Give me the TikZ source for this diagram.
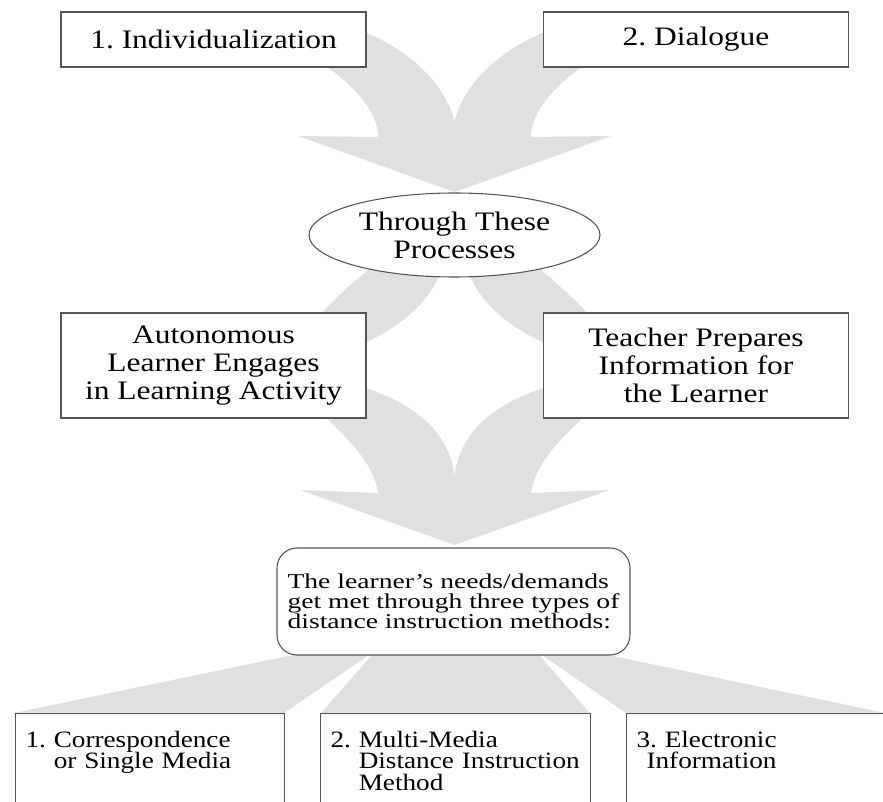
\documentclass[tikz,border=0pt]{standalone}
\usepackage{fontspec}
\setmainfont{Liberation Serif}
\newfontfamily\stagefont{Liberation Serif}[FakeStretch=1.18]
\newfontfamily\needsfont{Liberation Serif}[FakeStretch=1.31]
\newfontfamily\methodfont{Liberation Serif}[FakeStretch=1.16]
\frenchspacing
\usetikzlibrary{shapes.geometric}
\definecolor{flowgray}{RGB}{224,224,224}
\definecolor{edgegray}{RGB}{85,85,85}
\tikzset{
  flow/.style={fill=flowgray},
  stagebox/.style={draw=edgegray, line width=0.8pt, fill=white, minimum width=228.75pt, align=center, font=\stagefont\fontsize{20}{21}\selectfont},
  oval/.style={ellipse, draw=edgegray, line width=0.8pt, fill=white, minimum width=218.25pt, minimum height=63pt, inner sep=0pt, align=center, font=\stagefont\fontsize{20}{21}\selectfont},
  needbox/.style={draw=edgegray, line width=0.8pt, fill=white, rounded corners=15pt, minimum width=264.75pt, minimum height=80.25pt, align=left, font=\needsfont\fontsize{15.8}{15.2}\selectfont},
  methodbox/.style={draw=edgegray, line width=0.8pt, fill=white, anchor=north west, inner xsep=7.5pt, inner ysep=13pt, text depth=90pt, align=left, font=\methodfont\fontsize{17.6}{16.1}\selectfont}
}

\begin{document}
\begin{tikzpicture}[x=0.75pt, y=-0.75pt]
  \useasboundingbox (0,0) rectangle (883,802);
  \clip (0,0) rectangle (883,802);
  \fill[flow] (300,50) .. controls (340,72) and (378,105) .. (378,137) -- (298,136) -- (454.5,192) -- (611,136) -- (531,137) .. controls (531,105) and (569,72) .. (609,50) -- (569,24) .. controls (509,40) and (464,80) .. (454.5,122) .. controls (445,80) and (400,40) .. (340,24) -- cycle;
  \fill[flow] (385,255) .. controls (345,290) and (300,325) .. (290,365) .. controls (300,410) and (370,440) .. (378,493) -- (300,490) -- (454.5,545) -- (609,490) -- (531,493) .. controls (539,440) and (609,410) .. (619,365) .. controls (609,325) and (564,290) .. (524,255) -- (467,268) .. controls (479,305) and (514,330) .. (549,345) -- (554,385) .. controls (499,400) and (459,430) .. (454.5,477) .. controls (450,430) and (410,400) .. (355,385) -- (360,345) .. controls (395,330) and (430,305) .. (442,268) -- cycle;
  \fill[flow] (293,655) -- (369,655) -- (284,713) -- (14,713) -- cycle;
  \fill[flow] (372,655) -- (539,655) -- (590,713) -- (321,713) -- cycle;
  \fill[flow] (542,655) -- (608,655) -- (890,714) -- (626,713) -- cycle;
  \node[stagebox, minimum height=41.25pt] (indiv) at (213.5,39.5) {1. Individualization};
  \node[stagebox, minimum height=41.25pt] (dialog) at (696,39.5) {2. Dialogue};
  \node[oval] (proc) at (454.5,235) {Through These\\Processes};
  \node[stagebox, minimum height=78.75pt] (learner) at (213.5,365.5) {Autonomous\\Learner Engages\\in Learning Activity};
  \node[stagebox, minimum height=78.75pt] (teacher) at (696,365.5) {Teacher Prepares\\Information for\\the Learner};
  \node[needbox] (needs) at (453.5,601.5) {The learner’s needs/demands\\get met through three types of\\distance instruction methods:};
  \node[methodbox, text width=186.75pt] (corr) at (15,713) {1. Correspondence\\\phantom{1.}\ or Single Media};
  \node[methodbox, text width=187.5pt] (multi) at (320,713) {2. Multi-Media\\\phantom{2.}\ Distance Instruction\\\phantom{2.}\ Method};
  \node[methodbox, text width=215pt] (elec) at (626,713) {3. Electronic\\\hspace*{7.5pt}Information};
\end{tikzpicture}
\end{document}
